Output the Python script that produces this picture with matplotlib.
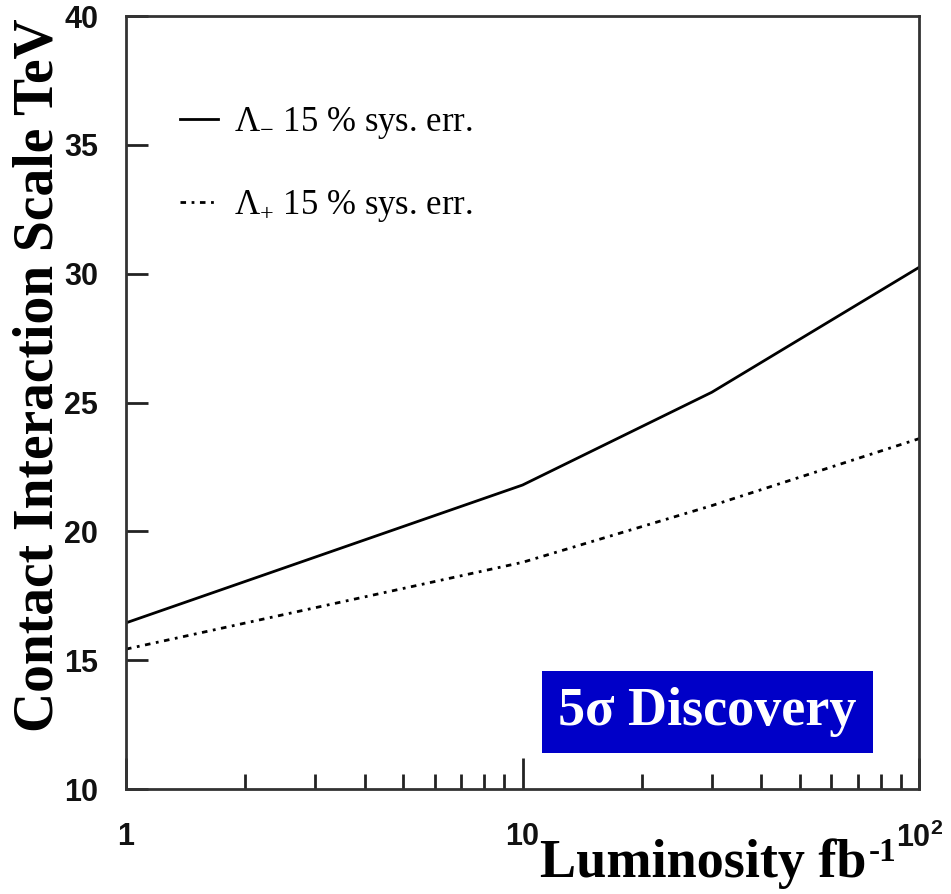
import matplotlib
matplotlib.use("Agg")
import matplotlib.pyplot as plt
from matplotlib.ticker import FixedLocator, LogLocator, NullFormatter

lumi = [1, 10, 30, 100]
lambda_minus = [16.45, 21.8, 25.4, 30.25]
lambda_plus = [15.43, 18.8, 21.0, 23.6]

y_ticks = [10, 15, 20, 25, 30, 35, 40]
x_ticks = [1, 10, 100]
x_labels = ["1", "10", r"$\mathregular{10^{2}}$"]

serif = "Liberation Serif"
plt.rcParams["font.family"] = serif
plt.rcParams["mathtext.fontset"] = "custom"
plt.rcParams["mathtext.rm"] = "Liberation Sans:bold"

fig = plt.figure(figsize=(9.51, 8.94), dpi=100)
ax = fig.add_axes([0.1325, 0.1174, 0.834, 0.8646])

ax.plot(lumi, lambda_minus, color="black", lw=2.0, label="Λ$_{\\mathregular{-}}$ 15 % sys. err.")
ax.plot(lumi, lambda_plus, color="black", lw=2.0, linestyle=(0, (2, 2, 1, 2)),
        label="Λ$_{\\mathregular{+}}$ 15 % sys. err.")

ax.set_xscale("log")
ax.set_xlim(1, 100)
ax.set_ylim(10, 40)

ax.xaxis.set_major_locator(FixedLocator(x_ticks))
ax.xaxis.set_minor_locator(LogLocator(base=10, subs=range(2, 10)))
ax.xaxis.set_minor_formatter(NullFormatter())
ax.set_xticks(x_ticks, x_labels)
ax.set_yticks(y_ticks)

ax.tick_params(axis="both", which="major", direction="in", width=2, colors="#222222")
ax.tick_params(axis="x", which="major", length=22, pad=24)
ax.tick_params(axis="x", which="minor", direction="in", length=11, width=2, color="#222222")
ax.tick_params(axis="y", which="major", length=16, pad=20)
ax.tick_params(axis="y", which="minor", left=False)
for lab in ax.get_xticklabels() + ax.get_yticklabels():
    lab.set_family("Liberation Sans")
    lab.set_fontweight("bold")
    lab.set_fontsize(22)
    lab.set_color("#111111")

for sp in ax.spines.values():
    sp.set_linewidth(2)
    sp.set_color("#333333")

ax.set_ylabel("Contact Interaction Scale TeV", family=serif, fontweight="bold",
              fontsize=40)
ax.yaxis.set_label_coords(-0.078, 0.536)
ax.set_xlabel("Luminosity fb", family=serif, fontweight="bold", fontsize=39)
ax.xaxis.set_label_coords(0.728, -0.064)
ax.text(0.936, -0.062, "-1", transform=ax.transAxes, ha="left", va="top",
        family=serif, fontweight="bold", fontsize=24)

leg = ax.legend(loc="upper left", bbox_to_anchor=(0.029, 0.925), frameon=False,
                prop={"family": serif, "size": 25}, handlelength=1.1,
                handletextpad=0.45, labelspacing=1.35)

ax.text(0.733, 0.0996, "5σ Discovery", transform=ax.transAxes, ha="center",
        va="center", color="white", fontsize=39, fontweight="bold", family=serif,
        bbox=dict(boxstyle="square,pad=0.3", fc="#0000c8", ec="none"))

fig.savefig("out.png", dpi=100)
